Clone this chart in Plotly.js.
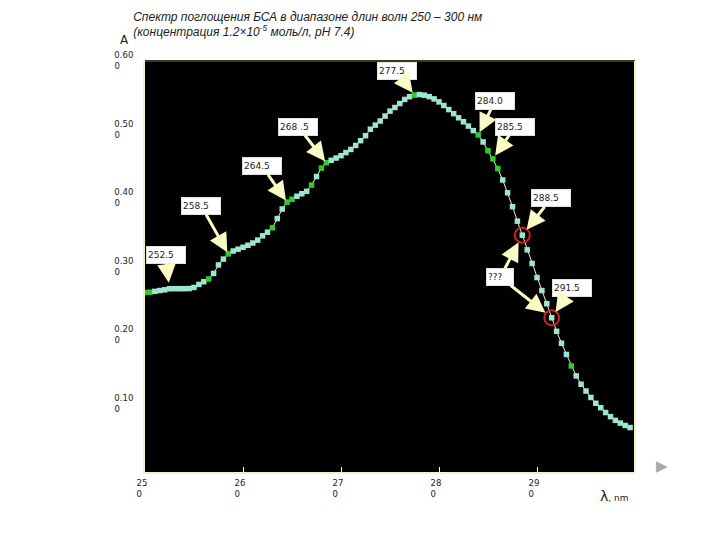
<!DOCTYPE html>
<html>
<head>
<meta charset="utf-8">
<script src="https://cdn.plot.ly/plotly-3.0.1.min.js"></script>
<style>html,body{margin:0;padding:0;background:#fff;}#chart{width:720px;height:540px;}</style>
</head>
<body>
<div id="chart"></div>
<script>
// Wavelength, nm
const wavelength = [
  250.0,250.5,251.0,251.5,252.0,252.5,253.0,253.5,254.0,254.5,
  255.0,255.5,256.0,256.5,257.0,257.5,258.0,258.5,259.0,259.5,
  260.0,260.5,261.0,261.5,262.0,262.5,263.0,263.5,264.0,264.5,
  265.0,265.5,266.0,266.5,267.0,267.5,268.0,268.5,269.0,269.5,
  270.0,270.5,271.0,271.5,272.0,272.5,273.0,273.5,274.0,274.5,
  275.0,275.5,276.0,276.5,277.0,277.5,278.0,278.5,279.0,279.5,
  280.0,280.5,281.0,281.5,282.0,282.5,283.0,283.5,284.0,284.5,
  285.0,285.5,286.0,286.5,287.0,287.5,288.0,288.5,289.0,289.5,
  290.0,290.5,291.0,291.5,292.0,292.5,293.0,293.5,294.0,294.5,
  295.0,295.5,296.0,296.5,297.0,297.5,298.0,298.5,299.0,299.5
];
// Absorbance A
const absorbance = [
  0.2620,0.2625,0.2637,0.2649,0.2660,0.2675,0.2676,0.2676,0.2676,0.2678,
  0.2694,0.2738,0.2778,0.2818,0.2899,0.3023,0.3108,0.3184,0.3226,0.3253,
  0.3280,0.3309,0.3343,0.3385,0.3448,0.3501,0.3565,0.3700,0.3839,0.3940,
  0.3982,0.4025,0.4062,0.4097,0.4189,0.4313,0.4436,0.4515,0.4550,0.4583,
  0.4618,0.4663,0.4709,0.4767,0.4837,0.4909,0.5004,0.5064,0.5124,0.5196,
  0.5268,0.5321,0.5379,0.5439,0.5479,0.5502,0.5510,0.5501,0.5480,0.5447,
  0.5403,0.5350,0.5291,0.5231,0.5171,0.5113,0.5050,0.4984,0.4921,0.4818,
  0.4690,0.4571,0.4429,0.4264,0.4076,0.3873,0.3662,0.3457,0.3243,0.3045,
  0.2839,0.2649,0.2457,0.2252,0.2054,0.1880,0.1716,0.1548,0.1403,0.1281,
  0.1182,0.1088,0.1003,0.0939,0.0868,0.0808,0.0754,0.0714,0.0679,0.0649
];
// Points drawn in green in the original
const highlightNm = [250.0,250.5,256.5,258.5,263.0,264.5,265.0,267.0,268.0,268.5,277.5,284.0,285.0,285.5,286.0,293.5];
// Labelled wavelengths
const labelNm = [252.5,258.5,264.5,268.5,277.5,284.0,285.5,288.5,291.5];
const labelText = ["252.5","258.5","264.5","268 .5","277.5","284.0","285.5","288.5","291.5"];
// Circled wavelengths (with "???" question)
const circledNm = [288.5,291.5];
// Axis ticks
const xTickVals = [250,260,270,280,290];
const xTickText = ["25<br>0\u00a0\u00a0","26<br>0\u00a0\u00a0","27<br>0\u00a0\u00a0","28<br>0\u00a0\u00a0","29<br>0\u00a0\u00a0"];
const yTickVals = [0.1,0.2,0.3,0.4,0.5,0.6];
const yTickText = ["0.10<br>0\u00a0\u00a0\u00a0\u00a0\u00a0","0.20<br>0\u00a0\u00a0\u00a0\u00a0\u00a0","0.30<br>0\u00a0\u00a0\u00a0\u00a0\u00a0","0.40<br>0\u00a0\u00a0\u00a0\u00a0\u00a0","0.50<br>0\u00a0\u00a0\u00a0\u00a0\u00a0","0.60<br>0\u00a0\u00a0\u00a0\u00a0\u00a0"];

function valueAt(nm){ return absorbance[wavelength.indexOf(nm)]; }

const markerColors = wavelength.map(w => highlightNm.indexOf(w) >= 0 ? '#2ecc2e' : '#9ee6d2');

const traces = [
  {
    x: wavelength, y: absorbance, type: 'scatter', mode: 'lines+markers',
    line: {color: '#f4f4b0', width: 1},
    marker: {symbol: 'square', size: 5.5, color: markerColors, line: {width: 0}},
    hoverinfo: 'skip', showlegend: false, cliponaxis: true
  },
  {
    x: circledNm, y: circledNm.map(valueAt), type: 'scatter', mode: 'markers',
    marker: {symbol: 'circle-open', size: 15, color: '#d02020', line: {width: 2, color: '#d02020'}},
    hoverinfo: 'skip', showlegend: false
  }
];

// offsets of label boxes relative to their points (pixels)
const boxOffsets = {
  252.5: [-4, -34, 6], 258.5: [-27, -48, 2], 264.5: [-25, -36, 2], 268.5: [-28, -36, 2],
  277.5: [-18, -24, 3], 284.0: [17, -34, 3], 285.5: [22, -32, 4], 288.5: [29, -37, 7], 291.5: [20, -30, 7]
};

const arrowStyle = {showarrow: true, arrowhead: 2, arrowsize: 1.25, arrowwidth: 3, arrowcolor: '#fbfbc4'};
const boxStyle = {bgcolor: '#ffffff', bordercolor: '#e0e0e0', borderwidth: 1, borderpad: 1,
  width: 36, height: 14, align: 'left', font: {family: 'DejaVu Sans', size: 9, color: '#222'}};

const annotations = labelNm.map((nm, i) => Object.assign({
  x: nm, y: valueAt(nm), xref: 'x', yref: 'y', text: labelText[i],
  ax: boxOffsets[nm][0], ay: boxOffsets[nm][1], standoff: boxOffsets[nm][2]
}, arrowStyle, boxStyle));

// "???" box with two arrows
annotations.push(Object.assign({x: circledNm[0], y: valueAt(circledNm[0]), xref:'x', yref:'y', text:'???', ax: -22, ay: 42, standoff: 8}, arrowStyle, boxStyle, {width: 24}));
annotations.push(Object.assign({x: circledNm[1], y: valueAt(circledNm[1]), xref:'x', yref:'y', text:'???', ax: -52, ay: -41, standoff: 8}, arrowStyle, boxStyle, {width: 24}));

// Axis labels and decoration
annotations.push({xref:'paper', yref:'paper', x: -0.041, y: 1.05, xanchor: 'center', yanchor: 'middle', text: 'A', showarrow: false,
  font: {family: 'DejaVu Sans', size: 12, color: '#222'}});
annotations.push({xref:'paper', yref:'paper', x: 0.958, y: -0.058, xanchor: 'center', yanchor: 'middle', text: '<span style="font-size:14px">λ</span>, nm', showarrow: false,
  font: {family: 'DejaVu Sans', size: 9, color: '#222'}});
annotations.push({xref:'paper', yref:'paper', x: 1.055, y: 0.015, xanchor: 'center', yanchor: 'middle', text: '▶', showarrow: false,
  font: {family: 'DejaVu Sans', size: 15, color: '#a8a8a8'}});

const layout = {
  width: 720, height: 540,
  margin: {l: 145, r: 85, t: 61, b: 68},
  paper_bgcolor: '#ffffff', plot_bgcolor: '#000000',
  title: {
    text: '<i>Спектр поглощения БСА в диапазоне длин волн 250 – 300 нм</i><br><i>(концентрация 1.2×10<sup>-5</sup> моль/л, pH 7.4)</i>',
    xref: 'container', yref: 'container', x: 0.185, xanchor: 'left', y: 0.962, yanchor: 'top',
    font: {family: 'Liberation Sans', size: 12, color: '#222'}
  },
  xaxis: {
    range: [250, 300], tickvals: xTickVals, ticktext: xTickText,
    ticks: 'inside', ticklen: 5, tickcolor: '#ffffff', tickwidth: 1,
    showgrid: false, zeroline: false, showline: true, linecolor: '#f2f2c0', linewidth: 2,
    tickfont: {family: 'DejaVu Sans', size: 8.5, color: '#222'}, ticklabelshift: -3, ticklabelstandoff: 2
  },
  yaxis: {
    range: [0, 0.6], tickvals: yTickVals, ticktext: yTickText,
    ticks: 'outside', ticklen: 3, tickcolor: '#ffffff', tickwidth: 1,
    showgrid: false, zeroline: false, showline: true, linecolor: '#f2f2c0', linewidth: 2,
    tickfont: {family: 'DejaVu Sans', size: 8.5, color: '#222'}, ticklabelstandoff: 5
  },
  shapes: [
    {type:'line', xref:'paper', yref:'paper', x0:0, x1:1, y0:1, y1:1, line:{color:'#3a3a1a', width:2}},
    {type:'line', xref:'paper', yref:'paper', x0:1, x1:1, y0:0, y1:1, line:{color:'#f2f2c0', width:2}}
  ],
  annotations: annotations,
  showlegend: false,
  hovermode: false
};

Plotly.newPlot('chart', traces, layout, {staticPlot: true, displayModeBar: false});
</script>
</body>
</html>
